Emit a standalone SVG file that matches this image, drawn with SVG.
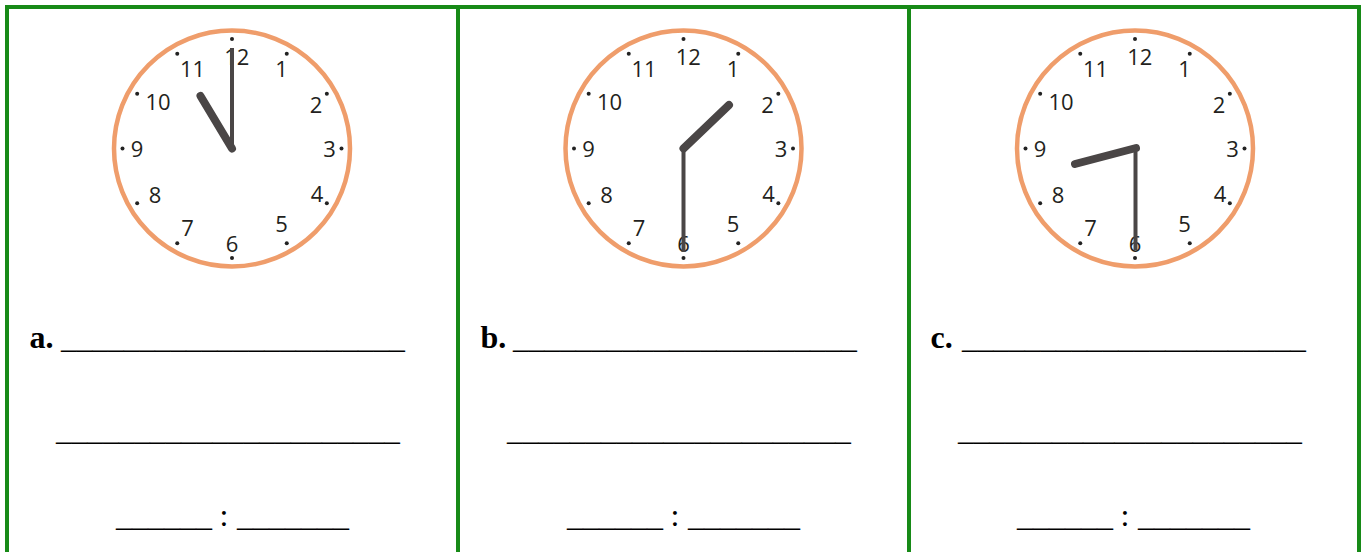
<svg xmlns="http://www.w3.org/2000/svg" xmlns:xlink="http://www.w3.org/1999/xlink" width="1367" height="552" viewBox="0 0 1367 552">
<style>
.grid{stroke:#178a17;stroke-width:4;fill:none}
.ring{fill:#fff;stroke:#ef9d6b;stroke-width:4.5}
.dot{fill:#222}
.num{font-family:"Open Sans","DejaVu Sans",sans-serif;font-weight:400;font-size:22px;fill:#231f20;text-anchor:middle}
.hh{stroke:#4a4646;stroke-width:8;stroke-linecap:round}
.mh{stroke:#4a4646;stroke-width:4;stroke-linecap:butt}
.lbl{font-family:"Liberation Serif","Times New Roman",serif;font-weight:bold;font-size:32px;fill:#000}
.ln{font-family:"Liberation Serif","Times New Roman",serif;font-size:32px;fill:#000}
</style>
<defs>
<g id="face">
<circle class="ring" cx="0" cy="0" r="118"/>
<g class="dot">
<circle cx="0" cy="-109.5" r="2"/><circle cx="54.75" cy="-94.83" r="2"/><circle cx="94.83" cy="-54.75" r="2"/>
<circle cx="109.5" cy="0" r="2"/><circle cx="94.83" cy="54.75" r="2"/><circle cx="54.75" cy="94.83" r="2"/>
<circle cx="0" cy="109.5" r="2"/><circle cx="-54.75" cy="94.83" r="2"/><circle cx="-94.83" cy="54.75" r="2"/>
<circle cx="-109.5" cy="0" r="2"/><circle cx="-94.83" cy="-54.75" r="2"/><circle cx="-54.75" cy="-94.83" r="2"/>
</g>
<g class="num">
<text x="4.8" y="-83.5">12</text>
<text x="49.5" y="-72">1</text>
<text x="84" y="-36">2</text>
<text x="97.5" y="8">3</text>
<text x="85" y="53">4</text>
<text x="49.5" y="83.5">5</text>
<text x="0" y="103.5">6</text>
<text x="-44.5" y="87.5">7</text>
<text x="-77" y="54.5">8</text>
<text x="-95" y="8">9</text>
<text x="-74" y="-39">10</text>
<text x="-39.5" y="-72">11</text>
</g>
</g>
</defs>
<g id="grid">
<line class="grid" x1="5" y1="7" x2="1361" y2="7"/>
<line class="grid" x1="7" y1="5" x2="7" y2="552"/>
<line class="grid" x1="458" y1="5" x2="458" y2="552"/>
<line class="grid" x1="909" y1="5" x2="909" y2="552"/>
<line class="grid" x1="1359" y1="5" x2="1359" y2="552"/>
</g>
<g id="clock-a">
<use xlink:href="#face" href="#face" transform="translate(232,148.5)"/>
<line class="mh" x1="232" y1="150" x2="232" y2="48"/>
<line class="hh" x1="232" y1="148.5" x2="200.5" y2="96"/>
</g>
<g id="clock-b">
<use xlink:href="#face" href="#face" transform="translate(683.5,148.5)"/>
<line class="mh" x1="683.5" y1="148.5" x2="683.5" y2="252"/>
<line class="hh" x1="683.5" y1="148.5" x2="729" y2="105"/>
</g>
<g id="clock-c">
<use xlink:href="#face" href="#face" transform="translate(1135,148.5)"/>
<line class="mh" x1="1135.5" y1="148.5" x2="1135.5" y2="250"/>
<line class="hh" x1="1136" y1="148" x2="1075" y2="164"/>
</g>
<g id="answer-a">
<text class="lbl" x="29.5" y="348">a.</text>
<text class="ln" x="61" y="348" textLength="344" lengthAdjust="spacingAndGlyphs">______________________</text>
<text class="ln" x="56" y="439.5" textLength="344" lengthAdjust="spacingAndGlyphs">______________________</text>
<text class="ln" x="116" y="525.5" textLength="96" lengthAdjust="spacingAndGlyphs">______</text>
<text class="ln" x="224" y="525.5" text-anchor="middle">:</text>
<text class="ln" x="237" y="525.5" textLength="112" lengthAdjust="spacingAndGlyphs">_______</text>
</g>
<g id="answer-b">
<text class="lbl" x="480.5" y="348">b.</text>
<text class="ln" x="513" y="348" textLength="344" lengthAdjust="spacingAndGlyphs">______________________</text>
<text class="ln" x="507" y="439.5" textLength="344" lengthAdjust="spacingAndGlyphs">______________________</text>
<text class="ln" x="567" y="525.5" textLength="96" lengthAdjust="spacingAndGlyphs">______</text>
<text class="ln" x="675" y="525.5" text-anchor="middle">:</text>
<text class="ln" x="688" y="525.5" textLength="112" lengthAdjust="spacingAndGlyphs">_______</text>
</g>
<g id="answer-c">
<text class="lbl" x="930.5" y="348">c.</text>
<text class="ln" x="962" y="348" textLength="344" lengthAdjust="spacingAndGlyphs">______________________</text>
<text class="ln" x="958" y="439.5" textLength="344" lengthAdjust="spacingAndGlyphs">______________________</text>
<text class="ln" x="1017" y="525.5" textLength="96" lengthAdjust="spacingAndGlyphs">______</text>
<text class="ln" x="1125" y="525.5" text-anchor="middle">:</text>
<text class="ln" x="1138" y="525.5" textLength="112" lengthAdjust="spacingAndGlyphs">_______</text>
</g>
</svg>
